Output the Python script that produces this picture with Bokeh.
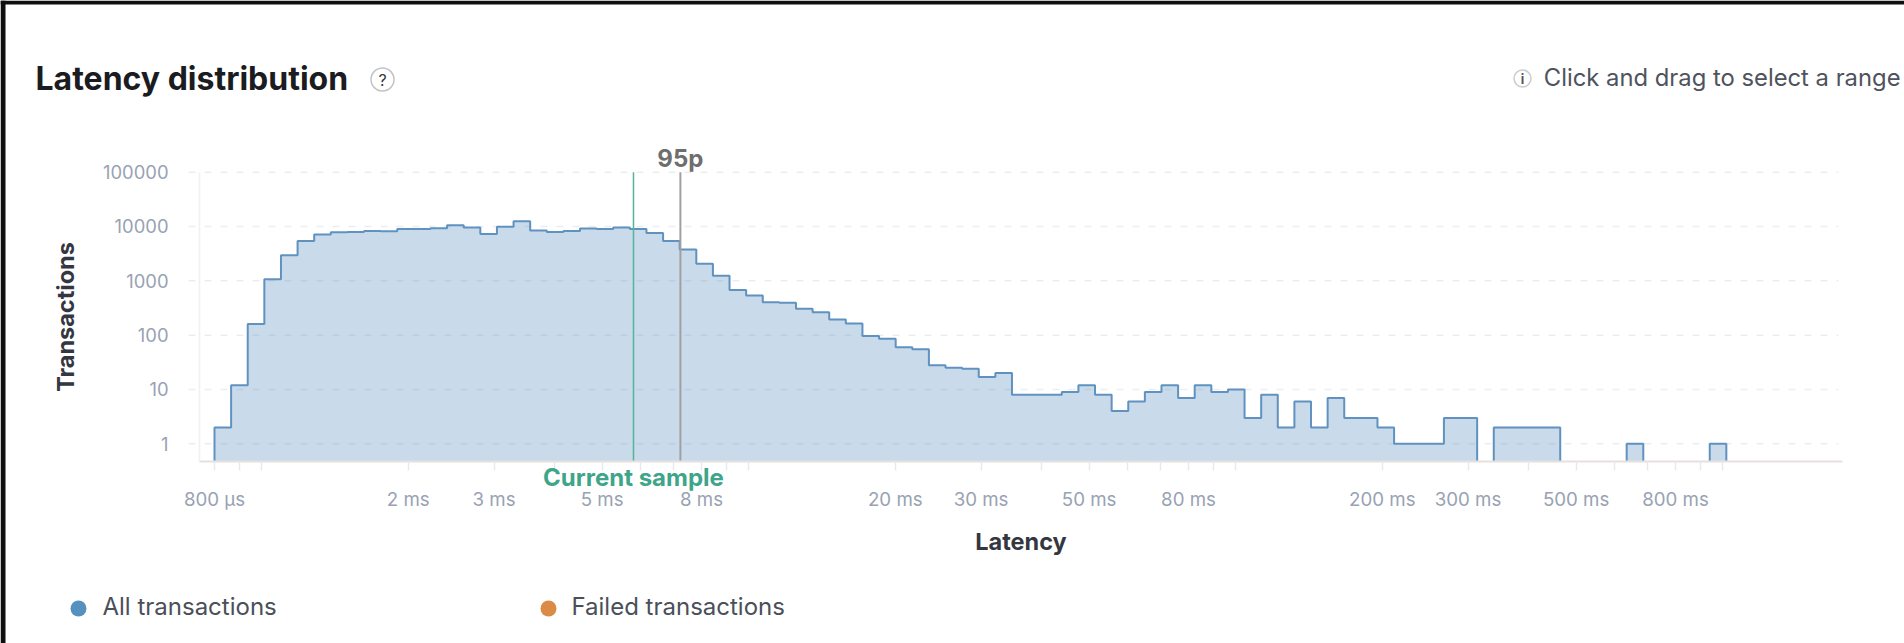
from bokeh.plotting import figure
from bokeh.models import FixedTicker, Range1d, Label, BoxAnnotation
from bokeh.embed import file_html
from bokeh.resources import INLINE

# Latency bin edges in ms
bin_edges_ms = [0.8, 0.8654, 0.9361, 1.0126, 1.0954, 1.1849, 1.2817, 1.3865, 1.4998, 1.6223,
    1.7549, 1.8983, 2.0534, 2.2212, 2.4027, 2.5991, 2.8115, 3.0412, 3.2898, 3.5586,
    3.8494, 4.1640, 4.5043, 4.8723, 5.2705, 5.7013, 6.1672, 6.6712, 7.2163, 7.8060,
    8.4439, 9.1339, 9.8803, 10.688, 11.561, 12.506, 13.528, 14.633, 15.829, 17.123,
    18.522, 20.036, 21.673, 23.444, 25.360, 27.432, 29.674, 32.099, 34.722, 37.559,
    40.628, 43.948, 47.540, 51.424, 55.627, 60.173, 65.090, 70.409, 76.163, 82.387,
    89.119, 96.402, 104.28, 112.80, 122.02, 131.99, 142.78, 154.45, 167.07, 180.72,
    195.49, 211.46, 228.74, 247.43, 267.65, 289.52, 313.18, 338.78, 366.46, 396.41,
    428.80, 463.84, 501.75, 542.75, 587.10, 635.08, 686.97, 743.11, 803.84, 869.53,
    940.58, 1017.4]
# Transactions per bin
transactions = [2, 12, 160, 1070, 2960, 5400, 7100, 7870, 7950, 8300,
    8200, 8950, 9000, 9300, 10500, 9600, 7300, 9900, 12500, 8400,
    7950, 8300, 9200, 9000, 9600, 8950, 7550, 5400, 3770, 2050,
    1240, 680, 535, 405, 394, 305, 265, 195, 164, 96,
    86, 60, 55, 28, 25, 24, 17, 20, 8, 8,
    8, 9, 12, 8, 4, 6, 9, 12, 7, 12,
    9, 10, 3, 8, 2, 6, 2, 7, 3, 3,
    2, 1, 1, 1, 3, 3, 0, 2, 2, 2,
    2, 0, 0, 0, 0, 1, 0, 0, 0, 0, 1]

y_ticks = [1, 10, 100, 1000, 10000, 100000]
y_tick_labels = ["1", "10", "100", "1000", "10000", "100000"]
x_ticks = [0.8, 0.9, 1, 2, 3, 4, 5, 6, 7, 8, 9, 10, 20, 30, 40, 50, 60, 70, 80, 90, 100,
           200, 300, 400, 500, 600, 700, 800, 900, 1000]
x_tick_labels = {0.8: "800 µs", 2: "2 ms", 3: "3 ms", 5: "5 ms", 8: "8 ms", 20: "20 ms", 30: "30 ms",
                 50: "50 ms", 80: "80 ms", 200: "200 ms", 300: "300 ms", 500: "500 ms", 800: "800 ms"}
current_sample_ms = 5.80
p95_ms = 7.24

FONT = "Inter"
W, H = 1904, 643
# The plot area fills the whole canvas, so that texts around the chart are not clipped away;
# axes are pinned inside it. Horizontal: 487 px per decade, 0.8 ms at 214 px. Vertical: 54.33 px per decade, 1 at 443.3 px.
PX_X0, PX_PER_DEC_X = 214.0, 487.0
PX_Y1, PX_PER_DEC_Y = 443.3, 54.33


def x_at(px):
    return 0.8 * 10 ** ((px - PX_X0) / PX_PER_DEC_X)


def y_at(py):
    return 10 ** ((PX_Y1 - py) / PX_PER_DEC_Y)


AXIS_X_MIN, AXIS_X_MAX = x_at(199), x_at(1842)
Y_BASE, Y_TOP = y_at(460.7), 100000

p = figure(width=W, height=H, output_backend="svg", toolbar_location=None,
           x_axis_type="log", y_axis_type="log",
           x_range=Range1d(x_at(0), x_at(W)), y_range=Range1d(y_at(H), y_at(0)),
           min_border_left=0, min_border_right=0, min_border_top=0, min_border_bottom=0)
p.outline_line_color = None
p.background_fill_color = "white"
p.border_fill_color = "white"

p.xgrid.visible = False
p.ygrid.visible = False
# dashed value rules, running from just left of the y axis to the end of the x axis
p.segment(x0=[x_at(188)] * len(y_ticks), y0=y_ticks, x1=[x_at(1838)] * len(y_ticks), y1=y_ticks,
          line_color="#e9edf2", line_width=1.5, line_dash="7 9")

ax = p.xaxis[0]
ax.fixed_location = Y_BASE
ax.bounds = (AXIS_X_MIN, AXIS_X_MAX)
ax.ticker = FixedTicker(ticks=x_ticks)
ax.major_label_overrides = {t: x_tick_labels.get(t, "") for t in x_ticks}
ax.minor_tick_line_color = None
ax.axis_line_color = "#e6e0de"
ax.axis_line_width = 2
ax.major_tick_line_color = "#e6e9ed"
ax.major_tick_line_width = 1.5
ax.major_tick_out = 9
ax.major_tick_in = 0
ax.major_label_text_font = FONT
ax.major_label_text_font_size = "18.7px"
ax.major_label_text_color = "#98a2b3"
ax.major_label_standoff = 18
ax.axis_label = "Latency"
ax.axis_label_text_font = FONT
ax.axis_label_text_font_style = "bold"
ax.axis_label_text_font_size = "23.5px"
ax.axis_label_text_color = "#343741"
ax.axis_label_standoff = 12

ay = p.yaxis[0]
ay.fixed_location = AXIS_X_MIN
ay.bounds = (Y_BASE, Y_TOP)
ay.ticker = FixedTicker(ticks=y_ticks)
ay.major_label_overrides = dict(zip(y_ticks, y_tick_labels))
ay.minor_tick_line_color = None
ay.axis_line_color = "#eef0f3"
ay.axis_line_width = 1.5
ay.major_tick_line_color = None
ay.major_tick_out = 11
ay.major_tick_in = 0
ay.major_label_text_font = FONT
ay.major_label_text_font_size = "18.4px"
ay.major_label_text_color = "#98a2b3"
ay.major_label_standoff = 20
ay.axis_label = "Transactions"
ay.axis_label_text_font = FONT
ay.axis_label_text_font_style = "bold"
ay.axis_label_text_font_size = "23.5px"
ay.axis_label_text_color = "#343741"
ay.axis_label_standoff = 20

# Contiguous runs of non-empty bins become one filled area and one outline each
runs_x, runs_y = [], []
cur_x, cur_y = None, None
for i, v in enumerate(transactions):
    if v > 0:
        if cur_x is None:
            cur_x, cur_y = [bin_edges_ms[i]], [Y_BASE]
        cur_x += [bin_edges_ms[i], bin_edges_ms[i + 1]]
        cur_y += [v, v]
    elif cur_x is not None:
        cur_x.append(cur_x[-1]); cur_y.append(Y_BASE)
        runs_x.append(cur_x); runs_y.append(cur_y)
        cur_x = None
if cur_x is not None:
    cur_x.append(cur_x[-1]); cur_y.append(Y_BASE)
    runs_x.append(cur_x); runs_y.append(cur_y)

p.patches(runs_x, runs_y, fill_color="#6092c0", fill_alpha=0.34, line_color=None)
p.multi_line(runs_x, runs_y, line_color="#6092c0", line_width=2)

p.segment(x0=[current_sample_ms], y0=[Y_BASE], x1=[current_sample_ms], y1=[Y_TOP],
          line_color="#54b399", line_width=1.5)
p.segment(x0=[p95_ms], y0=[Y_BASE], x1=[p95_ms], y1=[Y_TOP],
          line_color="#a0a0a0", line_width=2)


def txt(s, x, y, size, color, style="normal", align="left"):
    """x, y are canvas pixels from the top left; annotation screen units start at the bottom left."""
    p.add_layout(Label(x=x, y=H - y, x_units="screen", y_units="screen", text=s,
                       text_font=FONT, text_font_size=size, text_color=color,
                       text_font_style=style, text_align=align, text_baseline="middle"))


def box(x0, y0, x1, y1, fill, line=None, lw=1.5, radius=0):
    p.add_layout(BoxAnnotation(left=x0, right=x1, top=H - y0, bottom=H - y1,
                               left_units="screen", right_units="screen",
                               top_units="screen", bottom_units="screen",
                               fill_color=fill, fill_alpha=1 if fill else 0,
                               line_color=line, line_width=lw, border_radius=radius))


def dot(cx, cy, d, fill, line=None, lw=1.5):
    r = d / 2
    box(cx - r, cy - r, cx + r, cy + r, fill, line, lw, int(r + 0.5))


# dark page edge of the screenshot
box(0, 0, W, 4, "#0f0f0f")
box(0, 0, 5, H, "#0f0f0f")

p.add_layout(Label(x=current_sample_ms, y=y_at(477), text="Current sample", text_font=FONT,
                   text_font_size="24px", text_font_style="bold", text_color="#3fa58a",
                   text_align="center", text_baseline="middle"))
p.add_layout(Label(x=p95_ms, y=y_at(158), text="95p", text_font=FONT,
                   text_font_size="24px", text_font_style="bold", text_color="#6e6e6e",
                   text_align="center", text_baseline="middle"))

txt("Latency distribution", 35, 78, "32px", "#1a1c21", "bold")
dot(382, 79, 23, None, "#343741", 1.5)
txt("?", 382, 79, "16px", "#343741", align="center")

dot(1522, 78, 17, None, "#53565e", 1.5)
txt("i", 1522, 78, "13px", "#53565e", "bold", align="center")
txt("Click and drag to select a range", 1900, 77, "23.8px", "#4f535d", align="right")

dot(78, 608, 16, "#5590bf")
txt("All transactions", 102, 606, "24px", "#4a4f5a")
dot(548, 608, 16, "#da8b45")
txt("Failed transactions", 571, 606, "24px", "#4a4f5a")

open("out.html", "w").write(file_html(p, INLINE))
